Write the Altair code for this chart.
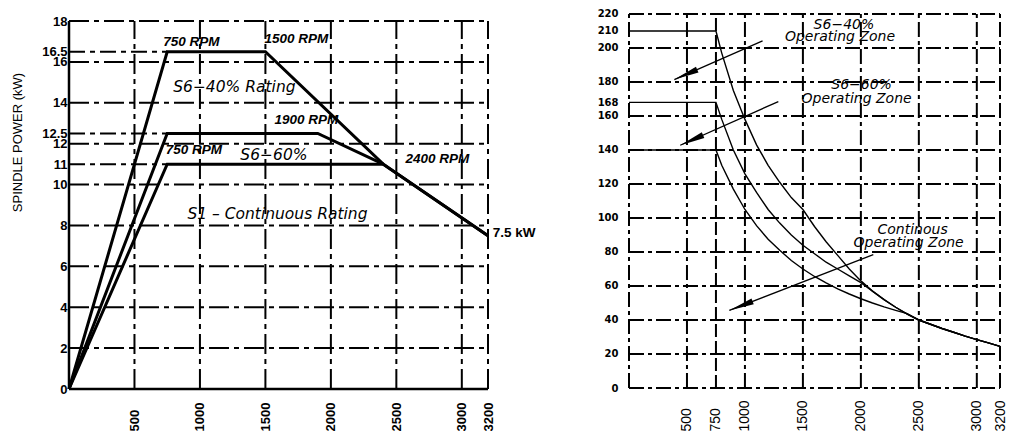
import math
import altair as alt
import pandas as pd

# ---------------- left panel: spindle power (kW) vs speed (rpm) ----------------
S6_40_RPM = [0, 750, 1500, 2400, 3200]
S6_40_KW = [0, 16.5, 16.5, 11, 7.5]
S6_60_RPM = [0, 750, 1900, 2400]
S6_60_KW = [0, 12.5, 12.5, 11]
S1_RPM = [0, 750, 2400, 3200]
S1_KW = [0, 11, 11, 7.5]

POWER_Y_TICKS = [0, 2, 4, 6, 8, 10, 11, 12, 12.5, 14, 16, 16.5, 18]
POWER_X_TICKS = [500, 1000, 1500, 2000, 2500, 3000, 3200]
POWER_H_GRID = [2, 4, 6, 8, 10, 12, 14, 16, 18]
POWER_V_GRID = [500, 1000, 1500, 2000, 2500, 3000, 3200]
POWER_GUIDE_KW = [16.5, 12.5, 11]
POWER_GUIDE_RPM = 750

RPM_NOTE_TEXT = ["750 RPM", "1500 RPM", "1900 RPM", "750 RPM", "2400 RPM"]
RPM_NOTE_X = [935, 1737, 1813, 954, 2813]
RPM_NOTE_Y = [16.98, 17.12, 13.16, 11.69, 11.25]
RATING_TEXT = ["S6\u221240% Rating", "S6\u221260%", "S1 \u2013 Continuous Rating"]
RATING_X = [1263, 1565, 1592]
RATING_Y = [14.77, 11.45, 8.56]
END_NOTE_TEXT = ["7.5 kW"]
END_NOTE_X = [3237]
END_NOTE_Y = [7.63]

# ---------------- right panel: torque (Nm) vs speed (rpm) ----------------
T_RPM = [0, 750, 800, 900, 1000, 1100, 1200, 1300, 1400, 1500, 1600, 1700, 1800,
         1900, 2000, 2100, 2200, 2300, 2400, 2500, 2600, 2700, 2800, 2900, 3000, 3100, 3200]
T_S6_40 = [210, 210, 197, 175, 158, 143, 131, 121, 112, 105, 95, 86, 78,
           70, 63, 57, 52, 47.5, 43.5, 40, 37.5, 35, 32.8, 30.5, 28.5, 26.5, 24.5]
T_S6_60 = [168, 168, 158, 140, 126, 115, 105, 97, 90, 84, 79, 74, 70,
           66, 62, 57, 52, 47.5, 43.5, 40, 37.5, 35, 32.8, 30.5, 28.5, 26.5, 24.5]
T_S1 = [140, 140, 131, 117, 105, 95.5, 87.5, 81, 75, 70, 65.6, 61.8, 58.3,
        55.3, 52.5, 50, 47.7, 45.7, 43.8, 40, 37.5, 35, 32.8, 30.5, 28.5, 26.5, 24.5]

TORQUE_Y_TICKS = [0, 20, 40, 60, 80, 100, 120, 140, 160, 168, 180, 200, 210, 220]
TORQUE_X_TICKS = [500, 750, 1000, 1500, 2000, 2500, 3000, 3200]
TORQUE_H_GRID = [0, 20, 40, 60, 80, 100, 120, 140, 160, 180, 200, 220]
TORQUE_V_GRID = [0, 500, 1000, 1500, 2000, 2500, 3000, 3200]
TORQUE_V_DASHED = [750]
TORQUE_TOP = 220

ZONE_TEXT = ["S6\u221240%", "Operating  Zone", "S6\u221260%", "Operating  Zone",
             "Continous", "Operating  Zone"]
ZONE_X = [1854, 1820, 2006, 1963, 2446, 2412]
ZONE_Y = [213.8, 206.6, 178.0, 170.0, 93.0, 85.1]

ARROW_START_RPM = [1152, 1288, 2107]
ARROW_START_NM = [204.2, 168.5, 78.4]
ARROW_TIP_RPM = [391, 442, 865]
ARROW_TIP_NM = [181.4, 142.8, 45.6]

# ---------------- styling ----------------
LAB_FONT = "Liberation Sans"
CAD_FONT = "DejaVu Sans"
LW, LH = 419, 380
RW, RH = 371, 379
L_YMAX = 18.59
R_YMAX = 222.93
XMAX = 3200

PX = alt.Scale(domain=[0, XMAX], nice=False, zero=False)
PY = alt.Scale(domain=[0, L_YMAX], nice=False, zero=False)
TX = alt.Scale(domain=[0, XMAX], nice=False, zero=False)
TY = alt.Scale(domain=[0, R_YMAX], nice=False, zero=False)

PXA = alt.Axis(
    values=POWER_X_TICKS, format="d", labelAngle=270, labelAlign="left", labelBaseline="middle",
    labelPadding=42, labelFont=LAB_FONT, labelFontSize=13, labelFontWeight="bold",
    labelColor="black", domain=False, ticks=False, grid=False, title=None,
    labelOverlap=False, labelFlush=False)
PYA = alt.Axis(
    values=POWER_Y_TICKS, format=".1~f", labelPadding=2, labelFont=LAB_FONT, labelFontSize=13,
    labelFontWeight="bold", labelColor="black", domain=False, ticks=False, grid=False,
    labelOverlap=False, title="SPINDLE POWER (kW)", titleFont=LAB_FONT, titleFontSize=13,
    titleFontWeight="normal", titleColor="black", titleX=-45, titleY=133)
TXA = alt.Axis(
    values=TORQUE_X_TICKS, format="d", labelAngle=270, labelAlign="left", labelBaseline="middle",
    labelPadding=43, labelFont=LAB_FONT, labelFontSize=14, labelFontWeight="normal",
    labelColor="black", domain=False, ticks=False, grid=False, title=None,
    labelOverlap=False, labelFlush=False)
TYA = alt.Axis(
    values=TORQUE_Y_TICKS, format="d", labelPadding=11, labelFont=CAD_FONT, labelFontSize=10,
    labelFontWeight="bold", labelColor="black", domain=False, ticks=False, grid=False,
    labelOverlap=False, title=None)

DASH_L = [20, 5, 5, 5]
DASH_R = [15, 4, 4, 4]


def px(f):
    return alt.X(f, scale=PX, axis=PXA)


def py(f):
    return alt.Y(f, scale=PY, axis=PYA)


def tx(f):
    return alt.X(f, scale=TX, axis=TXA)


def ty(f):
    return alt.Y(f, scale=TY, axis=TYA)


# ---------------- left panel layers ----------------
p_hgrid = alt.Chart(pd.DataFrame({"kw": POWER_H_GRID, "a": 0, "b": XMAX})).mark_rule(
    color="black", strokeWidth=2, strokeDash=DASH_L
).encode(x=px("a:Q"), x2="b:Q", y=py("kw:Q"))

p_vgrid = alt.Chart(pd.DataFrame({"rpm": POWER_V_GRID, "a": 0, "b": 18})).mark_rule(
    color="black", strokeWidth=2, strokeDash=DASH_L
).encode(x=px("rpm:Q"), y=py("a:Q"), y2="b:Q")

p_guides = alt.Chart(pd.DataFrame({"kw": POWER_GUIDE_KW, "a": 0, "b": POWER_GUIDE_RPM})).mark_rule(
    color="black", strokeWidth=2, strokeDash=[16, 5, 5, 5]
).encode(x=px("a:Q"), x2="b:Q", y=py("kw:Q"))

p_frame = alt.Chart(pd.DataFrame({"x": [0, 0], "y": [0, 0], "x2": [XMAX, 0], "y2": [0, 18]})).mark_rule(
    color="black", strokeWidth=2.5
).encode(x=px("x:Q"), y=py("y:Q"), x2="x2:Q", y2="y2:Q")

rows = []
for name, xs, ys in [("S6-40%", S6_40_RPM, S6_40_KW), ("S6-60%", S6_60_RPM, S6_60_KW), ("S1", S1_RPM, S1_KW)]:
    for i, (xv, yv) in enumerate(zip(xs, ys)):
        rows.append({"series": name, "i": i, "rpm": xv, "kw": yv})
p_df = pd.DataFrame(rows)

p_lines = alt.Chart(p_df).mark_line(color="black", strokeWidth=3, strokeJoin="miter").encode(
    x=px("rpm:Q"), y=py("kw:Q"), detail="series:N", order="i:Q")

p_rpm_notes = alt.Chart(pd.DataFrame({"t": RPM_NOTE_TEXT, "x": RPM_NOTE_X, "y": RPM_NOTE_Y})).mark_text(
    font=LAB_FONT, fontSize=13.5, fontStyle="italic", fontWeight="bold", color="black",
    align="center", baseline="middle"
).encode(x=px("x:Q"), y=py("y:Q"), text="t:N")

p_rating = alt.Chart(pd.DataFrame({"t": RATING_TEXT, "x": RATING_X, "y": RATING_Y})).mark_text(
    font=CAD_FONT, fontSize=15.5, fontStyle="italic", color="black",
    align="center", baseline="middle"
).encode(x=px("x:Q"), y=py("y:Q"), text="t:N")

p_end = alt.Chart(pd.DataFrame({"t": END_NOTE_TEXT, "x": END_NOTE_X, "y": END_NOTE_Y})).mark_text(
    font=LAB_FONT, fontSize=13.5, fontWeight="bold", color="black",
    align="left", baseline="middle"
).encode(x=px("x:Q"), y=py("y:Q"), text="t:N")

left = alt.layer(p_lines, p_hgrid, p_vgrid, p_guides, p_frame, p_rpm_notes, p_rating, p_end).properties(
    width=LW, height=LH)

# ---------------- right panel layers ----------------
t_hgrid = alt.Chart(pd.DataFrame({"nm": TORQUE_H_GRID, "a": 0, "b": XMAX})).mark_rule(
    color="black", strokeWidth=2, strokeDash=DASH_R
).encode(x=tx("a:Q"), x2="b:Q", y=ty("nm:Q"))

t_vgrid = alt.Chart(pd.DataFrame({"rpm": TORQUE_V_GRID, "a": 0, "b": TORQUE_TOP})).mark_rule(
    color="black", strokeWidth=2, strokeDash=DASH_R
).encode(x=tx("rpm:Q"), y=ty("a:Q"), y2="b:Q")

t_vdash = alt.Chart(pd.DataFrame({"rpm": TORQUE_V_DASHED, "a": 0, "b": TORQUE_TOP})).mark_rule(
    color="black", strokeWidth=2, strokeDash=[13, 4]
).encode(x=tx("rpm:Q"), y=ty("a:Q"), y2="b:Q")

rows = []
for name, ys in [("S6-40%", T_S6_40), ("S6-60%", T_S6_60), ("S1", T_S1)]:
    for i, (xv, yv) in enumerate(zip(T_RPM, ys)):
        rows.append({"series": name, "i": i, "rpm": xv, "nm": yv})
t_df = pd.DataFrame(rows)

t_lines = alt.Chart(t_df).mark_line(color="black", strokeWidth=1.4).encode(
    x=tx("rpm:Q"), y=ty("nm:Q"), detail="series:N", order="i:Q")

arr_df = pd.DataFrame({"sx": ARROW_START_RPM, "sy": ARROW_START_NM, "tx": ARROW_TIP_RPM, "ty": ARROW_TIP_NM})
kx = RW / XMAX
ky = RH / R_YMAX
arr_df["ang"] = [
    math.degrees(math.atan2((b - a) * kx, (d - c) * ky)) % 360
    for a, c, b, d in zip(arr_df.sx, arr_df.sy, arr_df.tx, arr_df.ty)
]

t_arrow_lines = alt.Chart(arr_df).mark_rule(color="black", strokeWidth=1.3).encode(
    x=tx("sx:Q"), y=ty("sy:Q"), x2="tx:Q", y2="ty:Q")

t_arrow_heads = alt.Chart(arr_df).mark_point(
    shape="M0,0L0.25,2L-0.25,2Z", filled=True, size=625, color="black", opacity=1, strokeWidth=0
).encode(x=tx("tx:Q"), y=ty("ty:Q"), angle=alt.Angle("ang:Q", scale=None))

t_text = alt.Chart(pd.DataFrame({"t": ZONE_TEXT, "x": ZONE_X, "y": ZONE_Y})).mark_text(
    font=CAD_FONT, fontSize=14, fontStyle="italic", color="black", align="center", baseline="middle"
).encode(x=tx("x:Q"), y=ty("y:Q"), text="t:N")

right = alt.layer(t_lines, t_hgrid, t_vgrid, t_vdash, t_arrow_lines, t_arrow_heads, t_text).properties(
    width=RW, height=RH)

chart = alt.hconcat(left, right, spacing=61).properties(
    padding={"left": 3, "top": 0, "right": 0, "bottom": 0}
).configure_view(strokeWidth=0)

chart.save("out.html", embed_options={"renderer": "svg", "actions": False})
